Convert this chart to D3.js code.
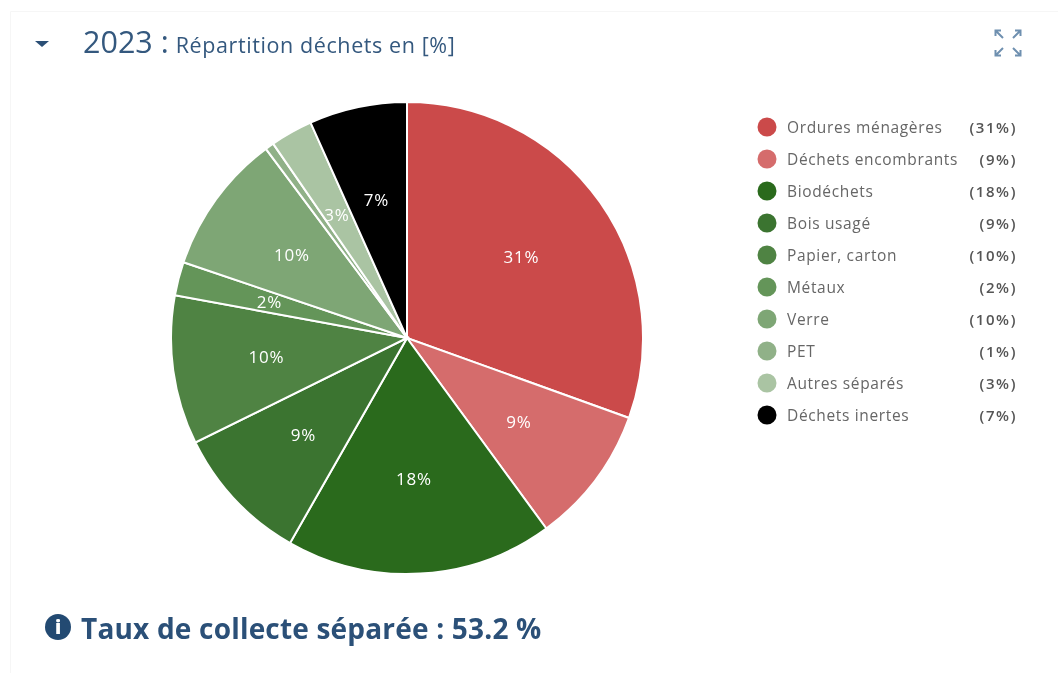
<!DOCTYPE html>
<html lang="fr">
<head>
<meta charset="utf-8">
<script src="https://cdn.jsdelivr.net/npm/d3@7"></script>
<style>
    html, body { margin: 0; padding: 0; background: #fff; }
    text { font-family: "Open Sans", sans-serif; }
    svg { filter: blur(0.45px); }
</style>
</head>
<body>
<div id="main-chart"></div>
<script>
// Values
let categories = ['Ordures ménagères', 'Déchets encombrants', 'Biodéchets', 'Bois usagé', 'Papier, carton',
    'Métaux', 'Verre', 'PET', 'Autres séparés', 'Déchets inertes'];
let shares = [30.5, 9.45, 18.3, 9.45, 10.2, 2.3, 9.6, 0.6, 2.9, 6.7];
let colours = ['#cb4a4a', '#d56c6c', '#2a6a1c', '#3b7430', '#4f8343', '#649559', '#7ea675', '#90b188', '#aac4a3', '#000000'];

let width = 1058,
    height = 673;

let svg = d3.select('#main-chart')
    .append('svg')
    .attr('width', width)
    .attr('height', height)
    .style('display', 'block');

// Panel border
svg.append('path')
    .attr('d', 'M10.5,673V11.5H1058')
    .attr('fill', 'none')
    .attr('stroke', '#f6f6f6');

// Header
svg.append('path')
    .attr('d', 'M35,41h14l-7,6z')
    .attr('fill', '#2b4f76');

let title = svg.append('text')
    .attr('x', 83)
    .attr('y', 53)
    .attr('fill', '#34587e');
title.append('tspan').attr('font-size', 30.5).text('2023 :');
title.append('tspan')
    .attr('font-size', 21.5)
    .attr('dx', 7)
    .attr('letter-spacing', 0.6)
    .text('Répartition déchets en [%]');

// Expand icon, four arrows pointing out
let arrows = svg.append('g')
    .attr('transform', 'translate(1008,43)')
    .attr('fill', 'none')
    .attr('stroke', '#6f90b0')
    .attr('stroke-width', 2);
[[-1, -1], [1, -1], [-1, 1], [1, 1]].forEach(function (d) {
    arrows.append('g')
        .attr('transform', 'scale(' + d[0] + ',' + d[1] + ')')
        .append('path')
        .attr('d', 'M5,5L12,12M7,12.5H12.5V7');
});

// Pie
let pie = d3.pie().sort(null).value(function (d) { return d; });
let radius = 236;
let arc = d3.arc().innerRadius(0).outerRadius(radius);
let labelArc = d3.arc().innerRadius(141).outerRadius(141);

let chart = svg.append('g')
    .attr('transform', 'translate(407,338)');

chart.selectAll('path')
    .data(pie(shares))
    .enter()
    .append('path')
    .attr('d', arc)
    .attr('fill', function (d, i) { return colours[i]; })
    .attr('stroke', '#fff')
    .attr('stroke-width', 2);

// No label is drawn on the 1% slice
chart.selectAll('text')
    .data(pie(shares).filter(function (d) { return d.data >= 2; }))
    .enter()
    .append('text')
    .attr('transform', function (d) {
        let c = labelArc.centroid(d);
        return 'translate(' + (c[0] - 1) + ',' + c[1] + ')';
    })
    .attr('text-anchor', 'middle')
    .attr('dy', '0.35em')
    .attr('font-size', 17)
    .attr('letter-spacing', 0.8)
    .attr('fill', '#fff')
    .text(function (d) { return Math.round(d.data) + '%'; });

// Legend
let legendY = d3.scalePoint()
    .domain(categories)
    .range([128, 416]);

let legend = svg.append('g')
    .selectAll('g')
    .data(categories)
    .enter()
    .append('g')
    .attr('transform', function (d) { return 'translate(0,' + legendY(d) + ')'; });

legend.append('circle')
    .attr('cx', 767)
    .attr('cy', -1)
    .attr('r', 9.5)
    .attr('fill', function (d, i) { return colours[i]; });

legend.append('text')
    .attr('x', 787)
    .attr('dy', '0.35em')
    .attr('font-size', 15.5)
    .attr('letter-spacing', 0.65)
    .attr('fill', '#666')
    .text(function (d) { return d; });

legend.append('text')
    .attr('x', 1017)
    .attr('dy', '0.35em')
    .attr('text-anchor', 'end')
    .attr('font-size', 15)
    .attr('font-weight', 600)
    .attr('letter-spacing', 1.6)
    .attr('fill', '#555')
    .text(function (d, i) { return '(' + Math.round(shares[i]) + '%)'; });

// Footer
svg.append('circle')
    .attr('cx', 58)
    .attr('cy', 627)
    .attr('r', 13)
    .attr('fill', '#234a72');

svg.append('text')
    .attr('x', 58)
    .attr('y', 634)
    .attr('text-anchor', 'middle')
    .attr('font-size', 19)
    .attr('font-weight', 800)
    .attr('font-family', '"DejaVu Serif", serif')
    .attr('fill', '#fff')
    .text('i');

svg.append('text')
    .attr('x', 81)
    .attr('y', 639)
    .attr('font-size', 28)
    .attr('font-weight', 700)
    .attr('letter-spacing', 0.19)
    .attr('fill', '#2b5078')
    .text('Taux de collecte séparée : 53.2 %');
</script>
</body>
</html>
